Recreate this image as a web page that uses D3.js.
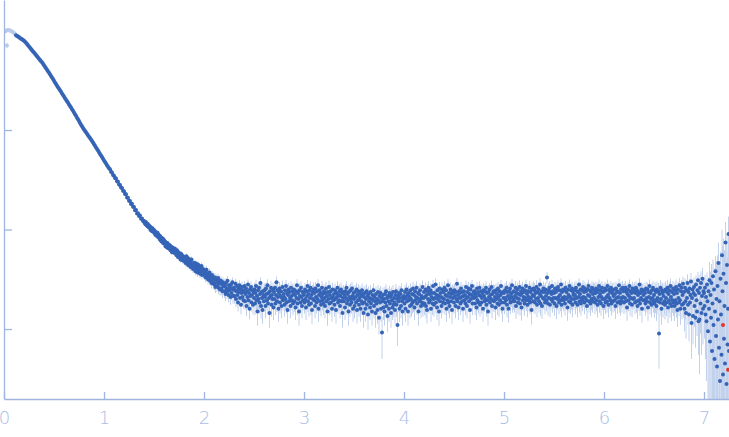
<!DOCTYPE html>
<html>
<head>
<meta charset="utf-8">
<script src="https://cdn.jsdelivr.net/npm/d3@7"></script>
<style>
  body { margin: 0; background: #fff; }
  .axis path, .axis line { stroke: #9fb5e0; stroke-width: 1.3; }
  .axis text { fill: #a9bde4; font-family: "DejaVu Sans", sans-serif; font-weight: 200; font-size: 18px; }
</style>
</head>
<body>
<div id="chart"></div>
<script>
// intensities in units of 1e-3, q in the x unit of the plot
var lightStart = 0.01, lightStep = 0.01;
var lightI = [980, 995, 1005, 1010, 1008, 1000, 990, 978, 962, 945, 925];
var lightOutlier = [[0.03, 708, 45]];

var smoothStart = 0.12, smoothStep = 0.01;
var smoothI = [897, 883, 869, 855, 841, 828, 815, 802, 789, 772,
  755, 734, 713, 693, 673, 654, 635, 617, 600, 583,
  566, 551, 536, 521, 506, 492, 479, 463, 447, 432,
  417, 403, 389, 376, 363, 350, 337, 325, 313, 301,
  290, 279, 269, 260, 251, 242, 233, 225, 217, 209,
  202, 195, 188, 181, 174, 168, 162, 156, 150, 144,
  139, 133, 128, 123, 118, 113, 109, 105, 101, 97.9,
  94.8, 91.7, 88.7, 85.8, 83.0, 80.3, 77.6, 74.8, 72.1, 69.4,
  66.8, 64.4, 62.1, 59.8, 57.5, 55.5, 53.5, 51.5, 49.5, 47.7,
  46.0, 44.3, 42.7, 41.2, 40.3, 38.1, 37.4, 35.3, 34.8, 33.0,
  32.5, 30.6, 30.2, 28.4, 28.1, 26.4, 26.2, 24.5, 24.3, 22.7,
  22.6, 21.0, 20.9, 19.5, 19.4, 18.1, 18.2, 16.9, 16.8, 15.6,
  15.7, 14.5, 14.6, 13.7, 13.8, 12.8, 12.9, 12.2];

var midStart = 1.40, midStep = 0.005;
var midI = [12.2, 11.7, 12.0, 11.3, 11.8, 11.1, 11.5, 10.8, 11.3, 10.6,
  11.0, 10.4, 10.7, 9.9, 10.5, 10.1, 9.6, 10.3, 9.8, 9.5,
  9.9, 9.2, 9.6, 8.8, 9.4, 9.0, 8.6, 9.3, 8.4, 8.9,
  8.7, 8.1, 8.6, 7.8, 8.3, 7.6, 8.2, 7.9, 7.3, 8.0,
  7.7, 7.2, 7.6, 6.8, 7.4, 7.0, 6.6, 7.3, 6.9, 6.5,
  7.0, 6.5, 6.9, 6.2, 6.7, 6.3, 5.9, 6.6, 6.1, 6.5,
  6.3, 5.8, 6.4, 5.9, 6.1, 5.5, 6.2, 5.7, 5.3, 5.9,
  5.8, 5.3, 5.6, 5.0, 5.7, 5.2, 5.5, 4.9, 5.4, 5.1,
  5.3, 4.8, 5.2, 4.6, 5.0, 5.4, 4.7, 4.9, 4.4, 5.1,
  4.8, 4.4, 4.9, 4.2, 4.6, 5.0, 4.3, 4.5, 4.0, 4.6,
  4.4, 4.1, 4.6, 3.8, 4.3, 4.0, 4.5, 3.7, 4.2, 4.4,
  3.9, 4.2, 3.6, 4.1, 3.8, 4.3, 3.5, 3.9, 4.0, 3.6];

var tailStep = 0.005;
var tail2 = [3.9, 3.5, 3.8, 3.3, 3.7, 3.95, 3.4, 3.6, 3.15, 3.55, 3.3, 3.7, 3.05, 3.45, 3.2, 2.9, 3.5, 3.1, 3.35, 2.85,
  3.2, 2.8, 3.3, 2.65, 3.0, 3.15, 2.7, 2.95, 3.25, 2.6, 2.85, 3.1, 2.5, 2.9, 3.05, 2.55, 2.8, 2.4, 2.95, 2.7,
  2.85, 2.4, 2.7, 2.25, 2.9, 2.55, 2.35, 3.05, 2.5, 2.2, 2.75, 2.45, 2.6, 2.1, 2.8, 2.3, 2.55, 2.95, 2.15, 2.5,
  2.6, 2.15, 2.45, 2.85, 2.0, 2.4, 2.7, 2.2, 1.85, 2.55, 2.35, 2.75, 2.05, 2.5, 1.75, 2.3, 2.65, 2.1, 2.45, 1.95,
  2.35, 2.7, 1.9, 2.25, 2.55, 1.7, 2.4, 2.1, 2.8, 1.95, 2.3, 1.6, 2.5, 2.15, 2.65, 1.85, 2.2, 2.45, 1.75, 2.35,
  2.05, 2.5, 1.8, 2.3, 2.7, 1.95, 2.15, 1.5, 2.45, 2.0, 2.6, 1.85, 2.25, 2.9, 1.7, 2.35, 2.05, 1.55, 2.4, 2.2,
  1.9, 2.45, 2.1, 1.7, 2.55, 2.25, 1.95, 2.75, 1.8, 2.3, 2.05, 1.45, 2.4, 2.15, 2.6, 1.75, 2.2, 2.0, 2.5, 1.65,
  2.35, 2.0, 2.6, 1.8, 2.2, 2.95, 1.9, 2.45, 2.1, 1.6, 2.3, 2.55, 1.85, 2.15, 2.4, 1.7, 2.05, 2.65, 1.95, 2.25,
  2.1, 1.75, 2.45, 2.0, 2.7, 1.85, 2.3, 1.55, 2.2, 2.5, 1.9, 2.35, 2.05, 1.7, 2.6, 2.15, 1.95, 2.4, 1.8, 2.25,
  2.5, 1.9, 2.2, 1.65, 2.4, 2.05, 2.75, 1.8, 2.3, 2.0, 1.5, 2.45, 2.15, 1.85, 2.6, 2.1, 1.7, 2.35, 1.95, 2.2];
var tail3 = [2.3, 1.85, 2.5, 2.0, 1.65, 2.4, 2.15, 2.7, 1.9, 2.25, 1.75, 2.45, 2.05, 2.6, 1.8, 2.2, 1.55, 2.35, 2.0, 2.5,
  1.95, 2.3, 1.7, 2.55, 2.1, 1.85, 2.4, 2.0, 2.75, 1.6, 2.2, 2.45, 1.9, 2.3, 1.75, 2.1, 2.6, 1.95, 2.25, 1.8,
  2.4, 2.05, 1.7, 2.3, 2.55, 1.9, 2.15, 1.5, 2.35, 2.0, 2.65, 1.8, 2.2, 2.4, 1.85, 2.05, 1.6, 2.5, 2.1, 1.95,
  2.25, 1.75, 2.45, 2.0, 1.55, 2.3, 2.1, 2.6, 1.85, 2.2, 1.95, 2.4, 1.7, 2.15, 2.5, 1.9, 2.3, 1.45, 2.05, 2.35,
  1.9, 2.2, 1.65, 2.4, 2.05, 2.6, 1.8, 2.25, 1.95, 1.5, 2.35, 2.1, 1.75, 2.45, 2.0, 1.85, 2.55, 2.15, 1.6, 2.3,
  2.0, 1.7, 2.35, 2.1, 1.85, 2.5, 1.55, 2.2, 1.95, 2.4, 1.75, 2.05, 2.3, 1.6, 2.15, 1.9, 2.45, 1.8, 2.25, 1.45,
  2.1, 1.85, 2.3, 1.6, 2.0, 2.4, 1.75, 2.15, 1.4, 2.25, 1.9, 2.05, 1.65, 2.35, 1.8, 2.0, 1.5, 2.2, 1.95, 2.45,
  1.7, 2.1, 1.9, 1.45, 2.25, 1.8, 2.0, 1.55, 2.35, 1.95, 1.3, 2.15, 1.85, 2.3, 1.6, 2.05, 0.92, 1.9, 2.2, 1.65,
  2.0, 1.5, 2.25, 1.85, 2.4, 1.7, 2.05, 1.35, 2.15, 1.9, 1.6, 2.3, 1.8, 2.1, 1.45, 2.2, 1.95, 1.65, 2.35, 1.75,
  2.05, 1.85, 1.55, 2.2, 2.4, 1.75, 2.0, 1.1, 2.15, 1.9, 2.3, 1.6, 2.05, 2.25, 1.7, 2.45, 1.9, 1.5, 2.1, 2.0];
var tail4 = [2.15, 1.8, 2.35, 1.6, 2.05, 2.5, 1.9, 2.2, 1.5, 2.3, 1.95, 2.1, 1.7, 2.45, 2.0, 1.75, 2.25, 1.85, 2.55, 1.9,
  2.2, 1.65, 2.4, 1.95, 2.1, 2.6, 1.8, 2.05, 2.3, 1.5, 2.25, 1.9, 2.45, 2.0, 1.7, 2.15, 1.85, 2.65, 1.75, 2.05,
  2.35, 1.8, 2.1, 2.5, 1.7, 2.2, 1.55, 2.4, 2.0, 2.6, 1.85, 2.25, 1.95, 2.45, 1.6, 2.1, 2.3, 1.8, 2.7, 2.0,
  1.75, 2.3, 2.05, 2.8, 1.85, 2.2, 1.65, 2.45, 2.0, 2.15, 1.5, 2.55, 1.9, 2.3, 2.1, 1.7, 2.5, 2.05, 1.85, 2.35,
  2.0, 2.6, 1.8, 2.2, 2.45, 1.6, 2.15, 1.95, 2.75, 1.85, 2.3, 1.7, 2.1, 2.5, 1.9, 2.25, 1.55, 2.4, 2.05, 2.3,
  1.85, 2.45, 2.15, 1.7, 2.35, 2.0, 2.85, 1.9, 2.2, 1.65, 2.4, 2.05, 2.3, 1.8, 2.55, 2.1, 1.9, 2.35, 1.6, 2.15,
  2.4, 1.95, 2.2, 1.8, 2.65, 2.05, 1.7, 2.35, 2.1, 2.55, 1.9, 2.25, 1.55, 2.5, 2.0, 2.2, 2.7, 1.8, 2.15, 2.35,
  2.05, 2.4, 1.8, 2.25, 2.1, 1.65, 2.55, 1.95, 2.35, 1.85, 2.2, 2.6, 1.75, 2.15, 2.4, 1.85, 2.05, 2.3, 1.6, 2.45,
  2.15, 1.9, 2.4, 2.0, 2.6, 1.75, 2.3, 1.95, 1.5, 2.35, 2.1, 2.5, 1.85, 2.2, 2.0, 2.65, 1.7, 2.25, 1.95, 2.4,
  1.9, 2.35, 2.1, 1.65, 2.45, 2.0, 2.25, 1.8, 2.55, 2.1, 1.75, 2.4, 1.95, 2.2, 2.7, 1.85, 2.3, 1.6, 2.35, 2.05];
var tail5 = [2.3, 1.85, 2.45, 2.05, 1.95, 2.6, 1.75, 2.35, 2.15, 1.6, 2.4, 2.0, 2.55, 1.85, 2.25, 2.1, 2.75, 1.9, 2.35, 2.0,
  2.4, 1.9, 2.15, 2.6, 1.7, 2.3, 2.05, 2.5, 1.85, 2.25, 2.0, 2.65, 1.8, 2.2, 2.4, 1.65, 2.3, 2.55, 1.95, 2.1,
  2.35, 1.8, 2.45, 2.05, 2.7, 1.95, 2.25, 1.75, 2.4, 2.1, 1.95, 2.6, 1.85, 2.35, 2.05, 1.55, 2.5, 2.2, 1.9, 2.55,
  2.15, 2.45, 1.85, 2.3, 2.0, 2.65, 1.75, 2.35, 2.05, 2.5, 1.9, 2.25, 2.8, 1.8, 2.15, 2.4, 1.7, 2.35, 2.05, 2.55,
  2.0, 2.35, 1.85, 2.5, 2.15, 1.95, 3.3, 2.3, 1.8, 2.45, 2.05, 2.6, 1.75, 2.35, 2.0, 2.25, 2.7, 1.9, 2.4, 2.05,
  2.3, 1.8, 2.55, 2.05, 2.35, 1.7, 2.5, 2.0, 2.65, 2.1, 1.85, 2.45, 2.2, 1.95, 2.8, 1.75, 2.35, 2.05, 2.5, 1.95,
  2.45, 2.1, 1.8, 2.6, 2.0, 2.35, 2.05, 1.65, 2.5, 2.2, 1.9, 2.7, 2.1, 1.85, 2.45, 2.0, 2.55, 1.75, 2.35, 2.2,
  2.0, 2.5, 2.2, 1.85, 2.6, 2.05, 2.4, 1.75, 2.35, 2.1, 2.8, 1.9, 2.25, 2.5, 1.8, 2.05, 2.45, 1.95, 2.65, 2.1,
  2.35, 1.85, 2.55, 2.05, 2.4, 1.95, 1.7, 2.5, 2.2, 2.7, 1.9, 2.15, 2.45, 1.8, 2.35, 2.0, 2.6, 1.9, 2.25, 2.5,
  2.05, 2.45, 1.85, 2.3, 2.55, 1.95, 2.35, 1.75, 2.5, 2.1, 2.7, 1.9, 2.25, 2.45, 1.8, 2.1, 2.6, 2.0, 2.35, 1.7];
var tail6 = [2.4, 2.0, 2.55, 1.85, 2.45, 2.1, 1.9, 2.7, 2.2, 1.75, 2.5, 2.05, 2.35, 1.95, 2.6, 1.8, 2.3, 2.45, 1.9, 2.15,
  2.5, 1.95, 2.25, 1.7, 2.55, 2.05, 2.4, 1.85, 2.35, 2.1, 2.75, 1.9, 2.3, 1.8, 2.5, 2.05, 1.9, 2.6, 2.1, 2.4,
  1.85, 2.45, 2.05, 2.6, 1.9, 2.35, 1.65, 2.25, 2.5, 1.95, 2.15, 2.7, 1.8, 2.4, 2.05, 2.3, 1.75, 2.55, 2.0, 2.35,
  2.05, 2.5, 1.85, 2.3, 2.6, 1.9, 2.45, 1.7, 2.2, 2.35, 1.95, 2.8, 1.8, 2.3, 2.05, 2.5, 1.6, 2.4, 1.95, 2.2,
  2.45, 1.95, 2.3, 1.8, 2.55, 2.05, 1.9, 2.5, 1.65, 2.35, 2.1, 2.7, 1.85, 2.3, 2.0, 1.75, 2.45, 2.05, 2.6, 1.9,
  2.2, 1.8, 2.45, 1.95, 2.35, 1.7, 2.5, 2.05, 1.9, 2.4, 0.9, 2.25, 1.85, 2.6, 2.0, 1.6, 2.45, 2.3, 1.8, 2.15,
  2.4, 1.9, 1.75, 2.5, 2.05, 1.85, 2.35, 2.6, 1.65, 2.25, 1.95, 2.45, 1.8, 2.7, 2.1, 1.7, 2.35, 1.95, 2.55, 1.85,
  2.25, 1.7, 2.45, 1.95, 2.65, 1.8, 2.3, 1.55, 2.5, 2.05, 1.85, 2.75, 1.95, 1.6, 2.4, 2.6, 1.75, 2.2, 2.85, 1.8,
  2.35, 1.6, 2.6, 1.9, 1.45, 2.45, 2.05, 2.9, 1.75, 2.35, 1.4, 2.55, 1.85, 2.2, 3.0, 1.15, 2.05, 2.5, 1.35, 2.3,
  2.65, 1.7, 2.2, 1.3, 2.8, 1.95, 1.5, 2.45, 3.1, 1.2, 2.3, 1.25, 2.6, 1.8, 2.9, 1.45, 2.15, 3.2, 1.6, 2.4];
var tail7 = [2.3, 1.7, 2.6, 1.4, 2.1, 1.2, 2.8, 1.9, 0.95, 2.4,
  1.6, 3.1, 0.75, 2.2, 1.3, 2.9, 0.6, 1.8, 3.4, 1.1,
  2.5, 0.5, 1.5, 3.8, 0.85, 2.0, 0.42, 2.7, 1.25, 4.6,
  0.65, 1.9, 0.3, 3.2, 1.4, 0.55, 5.5, 2.4, 0.35, 3.6,
  0.8, 1.7, 0.45, 7.4, 2.9, 0.28, 4.4, 0.7, 1.6, 9.0, 0.6];
var tailStarts = [2, 3, 4, 5, 6, 7];

var redPoints = [[7.19, 1.1], [7.24, 0.39]];

// error bar half-length (same units as intensity), by q range
var errQ = [0, 0.5, 1.0, 1.5, 2.5, 5.0, 6.5, 6.8, 6.95, 7.05, 7.12, 7.18];
var errS = [1.5, 0.6, 0.4, 0.35, 0.42, 0.44, 0.5, 0.65, 0.9, 1.6, 2.8, 4.5];

var width = 729, height = 437;

function sigmaAt(q) {
  var s = errS[0];
  errQ.forEach(function(e, k) { if (q >= e) s = errS[k]; });
  return s;
}
function seg(start, step, vals) {
  return vals.map(function(v, i) {
    var q = +(start + i * step).toFixed(4);
    return {q: q, v: v, s: sigmaAt(q)};
  });
}

var main = [].concat(
  seg(smoothStart, smoothStep, smoothI),
  seg(midStart, midStep, midI),
  seg(tailStarts[0], tailStep, tail2),
  seg(tailStarts[1], tailStep, tail3),
  seg(tailStarts[2], tailStep, tail4),
  seg(tailStarts[3], tailStep, tail5),
  seg(tailStarts[4], tailStep, tail6),
  seg(tailStarts[5], tailStep, tail7)
);
var light = seg(lightStart, lightStep, lightI).concat(
  lightOutlier.map(function(d) { return {q: d[0], v: d[1], s: d[2]}; }));
var red = redPoints.map(function(d) { return {q: d[0], v: d[1], s: sigmaAt(d[0])}; });

var x = d3.scaleLinear().domain([0, 7.25]).range([4, 729]);
var y = d3.scaleLog().domain([0.198, 2027]).range([399, 0]);

var svg = d3.select("#chart").append("svg")
  .attr("width", width)
  .attr("height", height);

svg.append("clipPath").attr("id", "plot")
  .append("rect")
  .attr("x", x.range()[0]).attr("y", 0)
  .attr("width", x.range()[1] - x.range()[0])
  .attr("height", y.range()[0]);

var plot = svg.append("g").attr("clip-path", "url(#plot)");

function lowY(d) {
  var lo = d.v - d.s;
  return lo > y.domain()[0] ? y(lo) : y.range()[0] + 5;
}

var all = light.concat(main, red);
plot.append("g").selectAll("line")
  .data(all)
  .enter().append("line")
  .attr("x1", function(d) { return x(d.q); })
  .attr("x2", function(d) { return x(d.q); })
  .attr("y1", function(d) { return y(d.v + d.s); })
  .attr("y2", lowY)
  .style("stroke", "#c3d2ec")
  .style("stroke-width", 1);

plot.append("g").selectAll("circle")
  .data(light)
  .enter().append("circle")
  .attr("cx", function(d) { return x(d.q); })
  .attr("cy", function(d) { return y(d.v); })
  .attr("r", 2)
  .style("fill", "#b9cbe9");

plot.append("g").selectAll("circle")
  .data(main)
  .enter().append("circle")
  .attr("cx", function(d) { return x(d.q); })
  .attr("cy", function(d) { return y(d.v); })
  .attr("r", 2)
  .style("fill", "#3564b7");

plot.append("g").selectAll("circle")
  .data(red)
  .enter().append("circle")
  .attr("cx", function(d) { return x(d.q); })
  .attr("cy", function(d) { return y(d.v); })
  .attr("r", 2)
  .style("fill", "#e8332a");

// x axis, ticks pointing inward
svg.append("g")
  .attr("class", "x axis")
  .attr("transform", "translate(0," + y.range()[0] + ")")
  .call(d3.axisBottom(x).tickValues([0, 1, 2, 3, 4, 5, 6, 7])
    .tickSizeInner(-7).tickSizeOuter(0).tickPadding(12)
    .tickFormat(d3.format("d")));

// y axis, no labels
svg.append("g")
  .attr("class", "y axis")
  .attr("transform", "translate(" + x.range()[0] + ",0)")
  .call(d3.axisLeft(y).tickValues([1, 10, 100])
    .tickSizeInner(-8).tickSizeOuter(0).tickFormat(""));
</script>
</body>
</html>
